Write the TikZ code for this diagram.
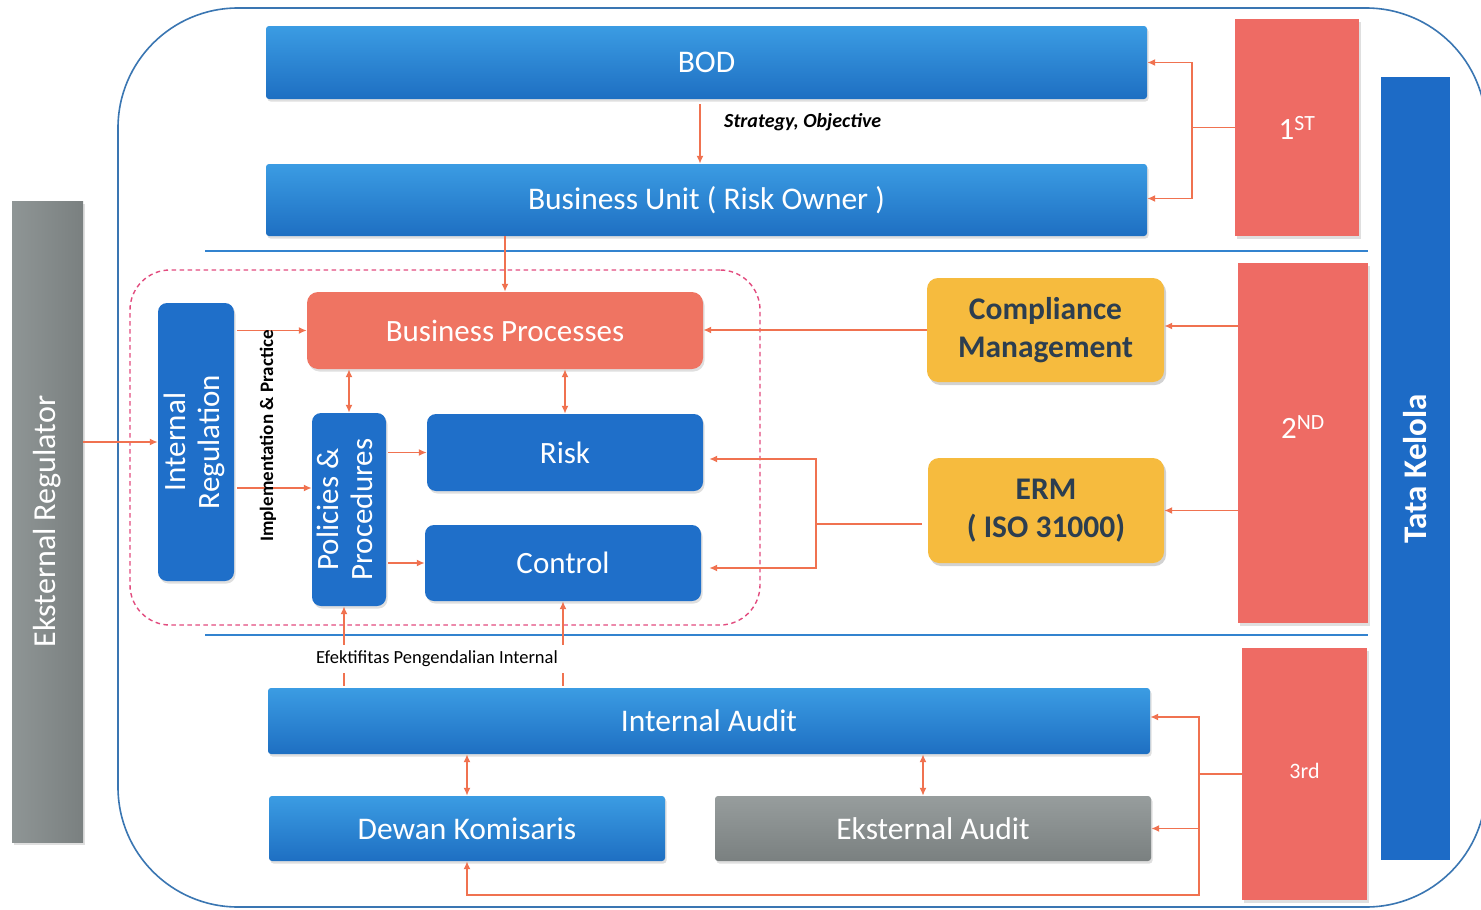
\documentclass[tikz,border=0pt]{standalone}
\usepackage{fontspec}
\setmainfont{Carlito}
\usepackage{graphicx}
\usetikzlibrary{arrows.meta,shadows,calc}
\definecolor{bluetop}{HTML}{3B9CE3}
\definecolor{bluebot}{HTML}{1E6FC2}
\definecolor{boxblue}{HTML}{1F6FC9}
\definecolor{tkblue}{HTML}{1D6BC6}
\definecolor{redbox}{HTML}{EE6B64}
\definecolor{bpred}{HTML}{EF7462}
\definecolor{yel}{HTML}{F6BB3E}
\definecolor{grytop}{HTML}{979D9D}
\definecolor{grybot}{HTML}{7A8080}
\definecolor{arrc}{HTML}{F07250}
\definecolor{pinkd}{HTML}{E24B7E}
\definecolor{linec}{HTML}{3383CF}
\definecolor{outerc}{HTML}{3A76B2}
\definecolor{darktxt}{HTML}{2C3E50}
\tikzset{
  shd/.style={drop shadow={opacity=0.25,shadow xshift=1.5pt,shadow yshift=-2.5pt}},
  bluebar/.style={rectangle,rounded corners=3pt,top color=bluetop,bottom color=bluebot,draw=none,
    text=white,font=\fontsize{31.5}{36}\selectfont,inner sep=0pt,shd},
  graybar/.style={rectangle,rounded corners=3pt,top color=grytop,bottom color=grybot,draw=none,
    text=white,font=\fontsize{31.5}{36}\selectfont,inner sep=0pt,shd},
  smallblue/.style={rectangle,rounded corners=9pt,fill=boxblue,draw=none,text=white,
    font=\fontsize{31}{34}\selectfont,inner sep=0pt,shd},
  redbar/.style={rectangle,fill=redbox,draw=none,text=white,
    font=\fontsize{31}{34}\selectfont,inner sep=0pt,shd},
  yelbox/.style={rectangle,rounded corners=11pt,fill=yel,draw=none,text=darktxt,align=center,
    font=\bfseries\fontsize{31.5}{38}\selectfont,inner sep=0pt,
    drop shadow={opacity=0.35,shadow xshift=2pt,shadow yshift=-3pt}},
  lw/.style={draw=arrc,line width=1.6pt},
  arr/.style={lw,-{Latex[length=8pt,width=7pt]}},
  darr/.style={lw,{Latex[length=8pt,width=7pt]}-{Latex[length=8pt,width=7pt]}},
  sep/.style={draw=linec,line width=1.6pt}
}
\begin{document}
\begin{tikzpicture}[x=1pt,y=-1pt]
\useasboundingbox (0,0) rectangle (1481,910);
\clip (0,0) rectangle (1481,910);
\fill[white] (0,0) rectangle (1481,910);
% outer frame
\draw[outerc,line width=1.6pt,rounded corners=120pt] (118,8) rectangle (1486,907);
% separators
\draw[sep] (205,251) -- (1368,251);
\draw[sep] (205,635) -- (1368,635);
% dashed group
\node[draw=pinkd,line width=1.4pt,rounded corners=40pt,minimum width=630pt,minimum height=355pt,inner sep=0pt,dash pattern=on 4.5pt off 3.5pt] (grp) at (445,447.5) {};

% nodes
\node[rectangle,left color=grytop!108,right color=grybot,draw=none,text=white,inner sep=0pt,
  minimum width=71pt,minimum height=641pt,font=\fontsize{32}{36}\selectfont,shd] (ereg) at (47.5,521.5) {\rotatebox{90}{Eksternal Regulator}};
\node[bluebar,minimum width=881pt,minimum height=73pt] (bod) at (706.5,62.5) {BOD};
\node[bluebar,minimum width=881pt,minimum height=72pt] (bu) at (706.5,200) {Business Unit ( Risk Owner )};
\node[redbar,minimum width=124pt,minimum height=217pt] (first) at (1297,127.5) {1\textsuperscript{ST}};
\node[rectangle,fill=tkblue,draw=none,text=white,inner sep=0pt,minimum width=69pt,minimum height=783pt,
  font=\bfseries\fontsize{33}{36}\selectfont] (tk) at (1415.5,468.5) {\rotatebox{90}{Tata Kelola}};

\node[smallblue,minimum width=76pt,minimum height=278pt] (ir) at (196,442)
  {\rotatebox{90}{\begin{tabular}{@{}c@{}}Internal\\Regulation\end{tabular}}};
\node[smallblue,fill=bpred,rounded corners=11pt,minimum width=396pt,minimum height=77pt] (bp) at (505,330.5) {Business Processes};
\node[smallblue,minimum width=74pt,minimum height=193pt] (pp) at (349,509.5)
  {\rotatebox{90}{\begin{tabular}{@{}c@{}}Policies \&\\Procedures\end{tabular}}};
\node[smallblue,minimum width=276pt,minimum height=77pt] (risk) at (565,452.5) {Risk};
\node[smallblue,minimum width=276pt,minimum height=76pt] (ctrl) at (563,563) {Control};

\node[yelbox,minimum width=237pt,minimum height=104pt] (cm) at (1045.5,330) {Compliance\\Management};
\node[yelbox,minimum width=236pt,minimum height=105pt] (erm) at (1046,510.5) {ERM\\( ISO 31000)};
\node[redbar,minimum width=130pt,minimum height=360pt] (second) at (1303,443) {\raisebox{31pt}{2\textsuperscript{ND}}};

\node[bluebar,minimum width=882pt,minimum height=66pt] (ia) at (709,721) {Internal Audit};
\node[bluebar,minimum width=396pt,minimum height=65pt] (dk) at (467,828.5) {Dewan Komisaris};
\node[graybar,minimum width=436pt,minimum height=65pt] (ea) at (933,828.5) {Eksternal Audit};
\node[redbar,minimum width=125pt,minimum height=252pt,font=\fontsize{22}{26}\selectfont] (third) at (1304.5,774) {\raisebox{6pt}{3rd}};

% helper coordinates
\coordinate (cx700) at (700,0);
\coordinate (cx344) at (344,0);
\coordinate (cx923) at (923,0);
\coordinate (y488) at (0,488);
\coordinate (y326) at (0,326);
\coordinate (y895) at (0,895);
\coordinate (j1) at (1192,127.5);
\coordinate (j2) at (816,524);
\coordinate (j3) at (1199,774);

% connectors
\draw[arr] ([yshift=-5pt]bod.south -| cx700) -- (bu.north -| cx700);
\node[anchor=west,inner sep=0pt,font=\bfseries\itshape\fontsize{20}{24}\selectfont] (lblso) at (724,122) {Strategy, Objective};
\draw[lw] (first.west) -- (j1);
\draw[arr] (j1) |- (bod.east);
\draw[arr] (j1) |- ([yshift=1.5pt]bu.east);
\draw[arr] (bu.south -| bp.north) -- (bp.north);
\draw[arr] (ir.west -| ereg.east) -- (ir.west);
\draw[arr] ([xshift=3pt]ir.east |- bp.west) -- (bp.west);
\draw[arr] ([xshift=3pt]ir.east |- y488) -- (pp.west |- y488);
\draw[darr] (bp.south -| pp.north) -- (pp.north);
\draw[darr] (bp.south -| risk.north) -- (risk.north);
\draw[arr] ([xshift=2pt]pp.east |- risk.west) -- (risk.west);
\draw[arr] ([xshift=2pt]pp.east |- ctrl.west) -- (ctrl.west);
\draw[arr] (cm.west) -- (cm.west -| bp.east);
\draw[arr] (second.west |- y326) -- (cm.east |- y326);
\draw[arr] (second.west |- erm.east) -- (erm.east);
\draw[lw] ([xshift=-6pt]erm.west |- j2) -- (j2);
\draw[arr] (j2) |- ([xshift=6pt,yshift=-6.5pt]risk.east);
\draw[arr] (j2) |- ([xshift=8pt,yshift=-5pt]ctrl.east);
\node[rotate=90,inner sep=0pt,font=\bfseries\fontsize{19}{22}\selectfont] (lblip) at (268,436) {Implementation \& Practice};
\draw[arr] ([yshift=2pt]ia.north -| cx344) -- (pp.south -| cx344);
\draw[arr] ([yshift=2pt]ia.north -| ctrl.south) -- (ctrl.south);
\node[fill=white,inner xsep=10pt,inner ysep=6pt,font=\fontsize{18.5}{22}\selectfont] (lblef) at (437,659) {Efektifitas Pengendalian Internal};
\draw[darr] (ia.south -| dk.north) -- (dk.north);
\draw[darr] (ia.south -| cx923) -- (ea.north -| cx923);
\draw[lw] (third.west) -- (j3);
\draw[arr] (j3) |- ([yshift=4pt]ia.east);
\draw[arr] (j3) |- (ea.east);
\draw[arr] (j3) -- (j3 |- y895) -| (dk.south);
\end{tikzpicture}
\end{document}
